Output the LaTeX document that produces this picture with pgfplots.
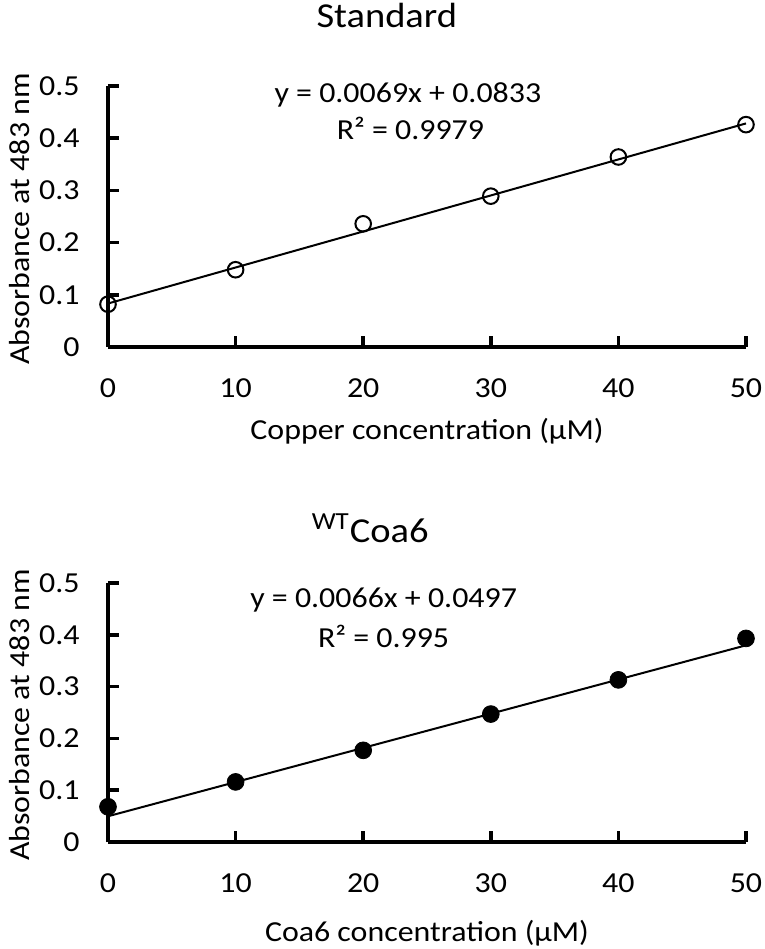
\documentclass[border=0pt]{standalone}
\usepackage{fontspec}
\setmainfont{Carlito}[FakeStretch=1.1]
\usepackage{pgfplots}
\pgfplotsset{compat=1.18}
\newcommand{\tk}{\fontsize{14.5pt}{17pt}\selectfont}
\newcommand{\tl}{\fontsize{17.5pt}{20pt}\selectfont}
\pgfplotsset{
  myax/.style={
    scale only axis, width=319pt,
    xmin=0, xmax=50, ymin=0, ymax=0.5,
    axis x line=bottom, axis y line=left,
    axis line style={-, line width=2pt, black},
    xtick={0,10,20,30,40,50}, ytick={0,0.1,0.2,0.3,0.4,0.5},
    tick align=inside, major tick length=5.5pt,
    every tick/.style={black, line width=1.8pt},
    /pgf/number format/assume math mode=true,
    yticklabel style={/pgf/number format/fixed, /pgf/number format/precision=1, xshift=-9.2pt, font=\tk},
    xticklabel style={yshift=-11pt, font=\tk},
    ylabel={Absorbance at 483 nm},
    ylabel style={at={(axis description cs:-0.139,0.49)}, anchor=center, font=\tk},
    clip=false,
  }
}
\begin{document}
\tk
\begin{tikzpicture}
\path[use as bounding box] (0,0) rectangle (382.5pt,474.5pt);
\begin{axis}[myax, at={(54pt,301pt)}, anchor=south west, height=130.5pt,
  title={Standard},
  title style={at={(axis description cs:0.437,1.226)}, anchor=base, yshift=-6pt, font=\tl},
  xlabel={Copper concentration (µM)},
  xlabel style={at={(axis description cs:0.5,-0.356)}, anchor=base, font=\tk}]
\addplot[black, line width=1pt, no marks] coordinates {(0,0.0833) (50,0.4283)};
\addplot[only marks, mark=o, mark size=3.9pt, mark options={line width=1pt, black}] coordinates {
(0,0.082) (10,0.148) (20,0.236) (30,0.289) (40,0.364) (50,0.426)};
\node[anchor=base, font=\tk] at (axis cs:23.5,0.469) {y = 0.0069x + 0.0833};
\node[anchor=base, font=\tk] at (axis cs:23.7,0.397) {R² = 0.9979};
\end{axis}
\begin{axis}[myax, at={(54pt,53.5pt)}, anchor=south west, height=129.5pt,
  title={\textsuperscript{WT}Coa6},
  title style={at={(axis description cs:0.411,1.158)}, anchor=base, yshift=-6pt, font=\tl},
  xlabel={Coa6 concentration (µM)},
  xlabel style={at={(axis description cs:0.5,-0.386)}, anchor=base, font=\tk}]
\addplot[black, line width=1pt, no marks] coordinates {(0,0.0497) (50,0.3797)};
\addplot[only marks, mark=*, mark size=4.2pt, mark options={black, fill=black}] coordinates {
(0,0.068) (10,0.116) (20,0.177) (30,0.247) (40,0.313) (50,0.393)};
\node[anchor=base, font=\tk] at (axis cs:21.6,0.452) {y = 0.0066x + 0.0497};
\node[anchor=base, font=\tk] at (axis cs:21.6,0.376) {R² = 0.995};
\end{axis}
\end{tikzpicture}
\end{document}
